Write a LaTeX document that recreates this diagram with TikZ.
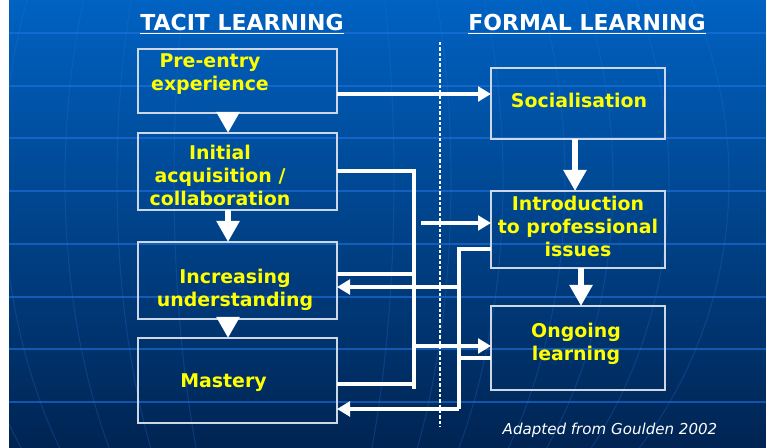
\documentclass[tikz,border=0pt]{standalone}
\usepackage{fontspec}
\setmainfont{DejaVu Sans}
\usepackage{tikz}
\usetikzlibrary{arrows.meta}

\begin{document}
\begin{tikzpicture}[x=0.75pt,y=0.75pt,yscale=-1,xscale=1,
  lbox/.style={draw={rgb, 255:red, 205; green, 215; blue, 230}, line width=0.8pt, inner sep=0pt, outer sep=0pt, minimum width=149.25pt},
  rbox/.style={lbox, minimum width=130.5pt},
  boxtext/.style={color={rgb, 255:red, 255; green, 255; blue, 0}, align=center, font=\fontsize{14.2}{17.25}\selectfont\bfseries},
  title/.style={color=white, font=\fontsize{16.5}{20}\selectfont\bfseries},
  wline/.style={color=white, line width=3pt, line join=miter},
  arr/.style={wline, -{Triangle[length=9.75pt,width=11pt]}},
  bigarr/.style={color=white, line width=4.5pt, -{Triangle[length=15.75pt,width=16.5pt]}},
  gridline/.style={color={rgb, 255:red, 30; green, 115; blue, 225}, line width=1.5pt, opacity=0.6},
  globeline/.style={color={rgb, 255:red, 40; green, 115; blue, 215}, line width=0.8pt, opacity=0.25}
]
\useasboundingbox (0,0) rectangle (766,448);

%Shape: Background
\fill[white] (0,0) rectangle (766,448);
\shade[top color={rgb, 255:red, 0; green, 98; blue, 194}, middle color={rgb, 255:red, 0; green, 68; blue, 140}, bottom color={rgb, 255:red, 0; green, 36; blue, 82}] (9,0) rectangle (766,448);
\begin{scope}
\clip (9,0) rectangle (766,448);
\foreach \a in {110,167,219,281,329,385,445}
  \draw[globeline] (284,180) ellipse [x radius=\a, y radius=445];
\end{scope}
\foreach \y in {33,86,138,191,244,297,349,402}
  \draw[gridline] (9,\y) -- (766,\y);

%Dotted divider
\draw[color=white, line width=2pt, dash pattern={on 2.4pt off 1.6pt}] (440,42) -- (440,427);

% Titles
\node[title] (tacit) at (242,24) {\underline{TACIT LEARNING}};
\node[title] (formal) at (587,24) {\underline{FORMAL LEARNING}};

%Boxes, tacit column
\node[lbox, minimum height=48pt] (pre) at (237.5,81) {};
\node[lbox, minimum height=57.75pt] (init) at (237.5,171.5) {};
\node[lbox, minimum height=57.75pt] (incr) at (237.5,280.5) {};
\node[lbox, minimum height=63.75pt] (mast) at (237.5,380.5) {};
%Boxes, formal column
\node[rbox, minimum height=53.25pt] (soc) at (578,103.5) {};
\node[rbox, minimum height=57.75pt] (intro) at (578,229.5) {};
\node[rbox, minimum height=63pt] (ong) at (578,348) {};

% Text Node
\node[boxtext] (pre-t) at (210,74) {Pre-entry\\experience};
% Text Node
\node[boxtext] (init-t) at (220,175) {Initial\\acquisition /\\collaboration};
% Text Node
\node[boxtext] (incr-t) at (235,290) {Increasing\\understanding};
% Text Node
\node[boxtext] (mast-t) at (223.5,383) {Mastery};
% Text Node
\node[boxtext] (soc-t) at (579,100) {Socialisation};
% Text Node
\node[boxtext] (intro-t) at (578,226) {Introduction\\to professional\\issues};
% Text Node
\node[boxtext] (ong-t) at (576,344) {Ongoing\\learning};
% Text Node
\node[color=white, font=\fontsize{11.3}{13}\selectfont\itshape] (src) at (610,430) {Adapted from Goulden 2002};

%Big arrows down the columns
\draw[bigarr] ([xshift=-7.1pt]pre.south) -- ([xshift=-7.1pt]init.north);
\draw[bigarr] ([xshift=-7.1pt]init.south) -- ([xshift=-7.1pt]incr.north);
\draw[bigarr] ([xshift=-7.1pt]incr.south) -- ([xshift=-7.1pt]mast.north);
\draw[bigarr] ([xshift=-2.25pt]soc.south) -- ([xshift=-2.25pt]intro.north);
\draw[bigarr] ([xshift=2.25pt]intro.south) -- ([xshift=2.25pt]ong.north);

%Tacit to formal
\coordinate (jA) at (414,389);
\coordinate (sA) at (421,223);
\draw[arr] ([yshift=9.75pt]pre.east) -- ([yshift=9.75pt]pre.east -| soc.west);
\draw[wline] (init.east) -| (jA);
\draw[wline] ([yshift=-4.9pt]incr.east) -- ([yshift=-4.9pt]incr.east -| jA);
\draw[wline] ([yshift=2.6pt]mast.east) -- ([yshift=2.6pt]mast.east -| jA);
\draw[arr] ([yshift=-1.5pt]ong.west -| jA) -- ([yshift=-1.5pt]ong.west);
\draw[arr] (sA) -- (sA -| intro.west);

%Formal to tacit
\coordinate (jB) at (459,409);
\draw[wline] ([yshift=14.6pt]intro.west) -| (jB);
\draw[wline] ([yshift=7.5pt]ong.west) -- ([yshift=7.5pt]ong.west -| jB);
\draw[arr] ([yshift=4.9pt]incr.east -| jB) -- ([yshift=4.9pt]incr.east);
\draw[arr] (jB) -- (jB -| mast.east);

\end{tikzpicture}
\end{document}
